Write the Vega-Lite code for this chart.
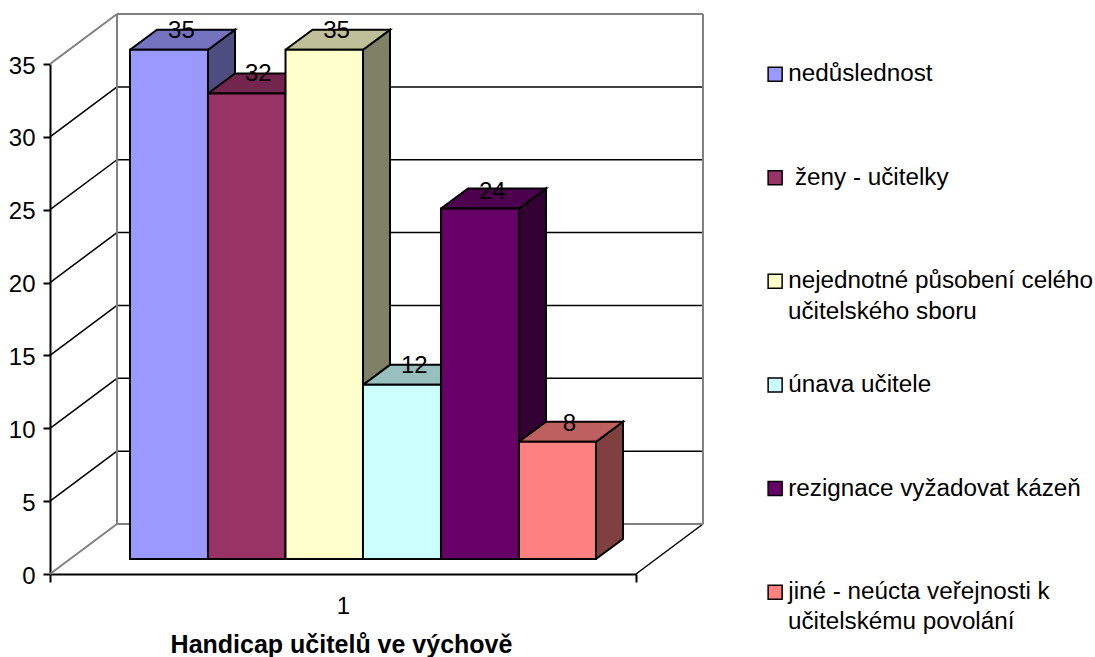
{"$schema":"https://vega.github.io/schema/vega-lite/v6.json","width":586,"height":510,"autosize":{"type":"none"},"padding":{"left":50,"top":64,"right":459,"bottom":83},"background":"white","config":{"view":{"stroke":null},"font":"Liberation Sans","axis":{"grid":false,"labelFont":"Liberation Sans","titleFont":"Liberation Sans","labelFontSize":24,"labelColor":"#000","tickColor":"#000","domainColor":"#000","domainWidth":2,"tickWidth":2}},
"datasets":{
"gray":[{"x":0.1143,"y":3.43,"x2":0.1143,"y2":38.43},{"x":0.1143,"y":38.43,"x2":1.1143,"y2":38.43},{"x":1.1143,"y":3.43,"x2":1.1143,"y2":38.43},{"x":0.1143,"y":3.43,"x2":1.1143,"y2":3.43},{"x":0,"y":0,"x2":0.1143,"y2":3.43},{"x":0,"y":35,"x2":0.1143,"y2":38.43}],
"black":[{"x":0.1143,"y":8.43,"x2":1.1143,"y2":8.43},{"x":0.1143,"y":13.43,"x2":1.1143,"y2":13.43},{"x":0.1143,"y":18.43,"x2":1.1143,"y2":18.43},{"x":0.1143,"y":23.43,"x2":1.1143,"y2":23.43},{"x":0.1143,"y":28.43,"x2":1.1143,"y2":28.43},{"x":0.1143,"y":33.43,"x2":1.1143,"y2":33.43},{"x":0,"y":5,"x2":0.1143,"y2":8.43},{"x":0,"y":10,"x2":0.1143,"y2":13.43},{"x":0,"y":15,"x2":0.1143,"y2":18.43},{"x":0,"y":20,"x2":0.1143,"y2":23.43},{"x":0,"y":25,"x2":0.1143,"y2":28.43},{"x":0,"y":30,"x2":0.1143,"y2":33.43},{"x":1,"y":0,"x2":1.1143,"y2":3.43}],
"faces":[
{"face":"1s","i":0,"x":0.2696,"y":1.03},{"face":"1s","i":1,"x":0.2696,"y":35.98},{"face":"1s","i":2,"x":0.3157,"y":37.353},{"face":"1s","i":3,"x":0.3157,"y":2.403},{"face":"1s","i":4,"x":0.2696,"y":1.03},
{"face":"1t","i":0,"x":0.1365,"y":35.98},{"face":"1t","i":1,"x":0.2696,"y":35.98},{"face":"1t","i":2,"x":0.3157,"y":37.353},{"face":"1t","i":3,"x":0.1826,"y":37.353},{"face":"1t","i":4,"x":0.1365,"y":35.98},
{"face":"2s","i":0,"x":0.4019,"y":1.03},{"face":"2s","i":1,"x":0.4019,"y":32.98},{"face":"2s","i":2,"x":0.448,"y":34.353},{"face":"2s","i":3,"x":0.448,"y":2.403},{"face":"2s","i":4,"x":0.4019,"y":1.03},
{"face":"2t","i":0,"x":0.2696,"y":32.98},{"face":"2t","i":1,"x":0.4019,"y":32.98},{"face":"2t","i":2,"x":0.448,"y":34.353},{"face":"2t","i":3,"x":0.3157,"y":34.353},{"face":"2t","i":4,"x":0.2696,"y":32.98},
{"face":"3s","i":0,"x":0.5341,"y":1.03},{"face":"3s","i":1,"x":0.5341,"y":35.98},{"face":"3s","i":2,"x":0.5802,"y":37.353},{"face":"3s","i":3,"x":0.5802,"y":2.403},{"face":"3s","i":4,"x":0.5341,"y":1.03},
{"face":"3t","i":0,"x":0.4019,"y":35.98},{"face":"3t","i":1,"x":0.5341,"y":35.98},{"face":"3t","i":2,"x":0.5802,"y":37.353},{"face":"3t","i":3,"x":0.448,"y":37.353},{"face":"3t","i":4,"x":0.4019,"y":35.98},
{"face":"4s","i":0,"x":0.6672,"y":1.03},{"face":"4s","i":1,"x":0.6672,"y":12.98},{"face":"4s","i":2,"x":0.7133,"y":14.353},{"face":"4s","i":3,"x":0.7133,"y":2.403},{"face":"4s","i":4,"x":0.6672,"y":1.03},
{"face":"4t","i":0,"x":0.5341,"y":12.98},{"face":"4t","i":1,"x":0.6672,"y":12.98},{"face":"4t","i":2,"x":0.7133,"y":14.353},{"face":"4t","i":3,"x":0.5802,"y":14.353},{"face":"4t","i":4,"x":0.5341,"y":12.98},
{"face":"5s","i":0,"x":0.8003,"y":1.03},{"face":"5s","i":1,"x":0.8003,"y":25.08},{"face":"5s","i":2,"x":0.8464,"y":26.453},{"face":"5s","i":3,"x":0.8464,"y":2.403},{"face":"5s","i":4,"x":0.8003,"y":1.03},
{"face":"5t","i":0,"x":0.6672,"y":25.08},{"face":"5t","i":1,"x":0.8003,"y":25.08},{"face":"5t","i":2,"x":0.8464,"y":26.453},{"face":"5t","i":3,"x":0.7133,"y":26.453},{"face":"5t","i":4,"x":0.6672,"y":25.08},
{"face":"6s","i":0,"x":0.9317,"y":1.03},{"face":"6s","i":1,"x":0.9317,"y":9.08},{"face":"6s","i":2,"x":0.9778,"y":10.453},{"face":"6s","i":3,"x":0.9778,"y":2.403},{"face":"6s","i":4,"x":0.9317,"y":1.03},
{"face":"6t","i":0,"x":0.8003,"y":9.08},{"face":"6t","i":1,"x":0.9317,"y":9.08},{"face":"6t","i":2,"x":0.9778,"y":10.453},{"face":"6t","i":3,"x":0.8464,"y":10.453},{"face":"6t","i":4,"x":0.8003,"y":9.08}],
"bars":[
{"series":"nedůslednost","value":35,"x0":0.1365,"x1":0.2696,"base":1.03,"top":35.98,"lx":0.2242,"ly":37.25},
{"series":" ženy - učitelky","value":32,"x0":0.2696,"x1":0.4019,"base":1.03,"top":32.98,"lx":0.3555,"ly":34.3},
{"series":"nejednotné působení celého učitelského sboru","value":35,"x0":0.4019,"x1":0.5341,"base":1.03,"top":35.98,"lx":0.489,"ly":37.25},
{"series":"únava učitele","value":12,"x0":0.5341,"x1":0.6672,"base":1.03,"top":12.98,"lx":0.6217,"ly":14.3},
{"series":"rezignace vyžadovat kázeň","value":24,"x0":0.6672,"x1":0.8003,"base":1.03,"top":25.08,"lx":0.7548,"ly":26.25},
{"series":"jiné - neúcta veřejnosti k učitelskému povolání","value":8,"x0":0.8003,"x1":0.9317,"base":1.03,"top":9.08,"lx":0.8865,"ly":10.3}],
"wrapped":[{"line":"učitelského sboru","x":1.2594,"y":17.97},{"line":"učitelskému povolání","x":1.2594,"y":-3.28}]
},
"layer":[
{"data":{"name":"black"},"mark":{"type":"rule","color":"#000","strokeWidth":1.5},"encoding":{"x":{"field":"x","type":"quantitative","scale":{"domain":[0,1],"nice":false,"zero":false},"title":"Handicap učitelů ve výchově","axis":{"values":[0,0.5,1],"labelExpr":"datum.value==0.5?'1':''","tickSize":8,"tickOpacity":{"condition":{"test":"datum.value==0.5","value":0},"value":1},"labelPadding":12,"titleFontSize":25,"titleFontWeight":"bold","titlePadding":14,"titleX":291,"labelAngle":0,"labelFlush":false,"labelOverlap":false}},"x2":{"field":"x2"},"y":{"field":"y","type":"quantitative","scale":{"domain":[0,35],"nice":false},"title":null,"axis":{"values":[0,5,10,15,20,25,30,35],"tickSize":7,"labelPadding":8,"labelOffset":2}},"y2":{"field":"y2"}}},
{"data":{"name":"gray"},"mark":{"type":"rule","color":"#808080","strokeWidth":2},"encoding":{"x":{"field":"x","type":"quantitative","scale":{"domain":[0,1],"nice":false,"zero":false}},"x2":{"field":"x2"},"y":{"field":"y","type":"quantitative","scale":{"domain":[0,35],"nice":false}},"y2":{"field":"y2"}}},
{"data":{"name":"faces"},"mark":{"type":"line","stroke":"#000","strokeWidth":2,"interpolate":"linear"},"encoding":{"x":{"field":"x","type":"quantitative","scale":{"domain":[0,1],"nice":false,"zero":false}},"y":{"field":"y","type":"quantitative","scale":{"domain":[0,35],"nice":false}},"order":{"field":"i","type":"ordinal"},"detail":{"field":"face"},"fill":{"field":"face","type":"nominal","legend":null,"scale":{"domain":["1s","1t","2s","2t","3s","3t","4s","4t","5s","5t","6s","6t"],"range":["#4D4D80","#7373BF","#4D1A33","#73264D","#808066","#BFBF99","#668080","#99BFBF","#330033","#4D004D","#804040","#BF6060"]}}}},
{"data":{"name":"bars"},"mark":{"type":"rect","stroke":"#000","strokeWidth":2},"encoding":{"x":{"field":"x0","type":"quantitative","scale":{"domain":[0,1],"nice":false,"zero":false}},"x2":{"field":"x1"},"y":{"field":"base","type":"quantitative","scale":{"domain":[0,35],"nice":false}},"y2":{"field":"top"},"color":{"field":"series","type":"nominal","sort":null,"scale":{"domain":["nedůslednost"," ženy - učitelky","nejednotné působení celého učitelského sboru","únava učitele","rezignace vyžadovat kázeň","jiné - neúcta veřejnosti k učitelskému povolání"],"range":["#9999FF","#993366","#FFFFCC","#CCFFFF","#660066","#FF8080"]},"legend":{"title":null,"orient":"none","legendX":713,"legendY":-2,"symbolType":"square","symbolSize":196,"symbolStrokeColor":"#000","symbolStrokeWidth":1.5,"symbolOpacity":1,"labelFontSize":24.25,"labelColor":"#000","labelFont":"Liberation Sans","labelOffset":1,"labelLimit":400,"rowPadding":78.6,"columns":1,"labelExpr":"indexof(datum.label,'nejednotné')>=0?'nejednotné působení celého':indexof(datum.label,'jiné')>=0?'jiné - neúcta veřejnosti k':indexof(datum.label,'ženy')>=0?'\u200b\u00a0ženy - učitelky':datum.label"}}}},
{"data":{"name":"bars"},"mark":{"type":"text","fontSize":24,"color":"#000","baseline":"middle","font":"Liberation Sans"},"encoding":{"x":{"field":"lx","type":"quantitative","scale":{"domain":[0,1],"nice":false,"zero":false}},"y":{"field":"ly","type":"quantitative","scale":{"domain":[0,35],"nice":false}},"text":{"field":"value","type":"quantitative"}}},
{"data":{"name":"wrapped"},"mark":{"type":"text","fontSize":24.25,"color":"#000","baseline":"middle","align":"left","font":"Liberation Sans"},"encoding":{"x":{"field":"x","type":"quantitative","scale":{"domain":[0,1],"nice":false,"zero":false}},"y":{"field":"y","type":"quantitative","scale":{"domain":[0,35],"nice":false}},"text":{"field":"line","type":"nominal"}}}
]}
